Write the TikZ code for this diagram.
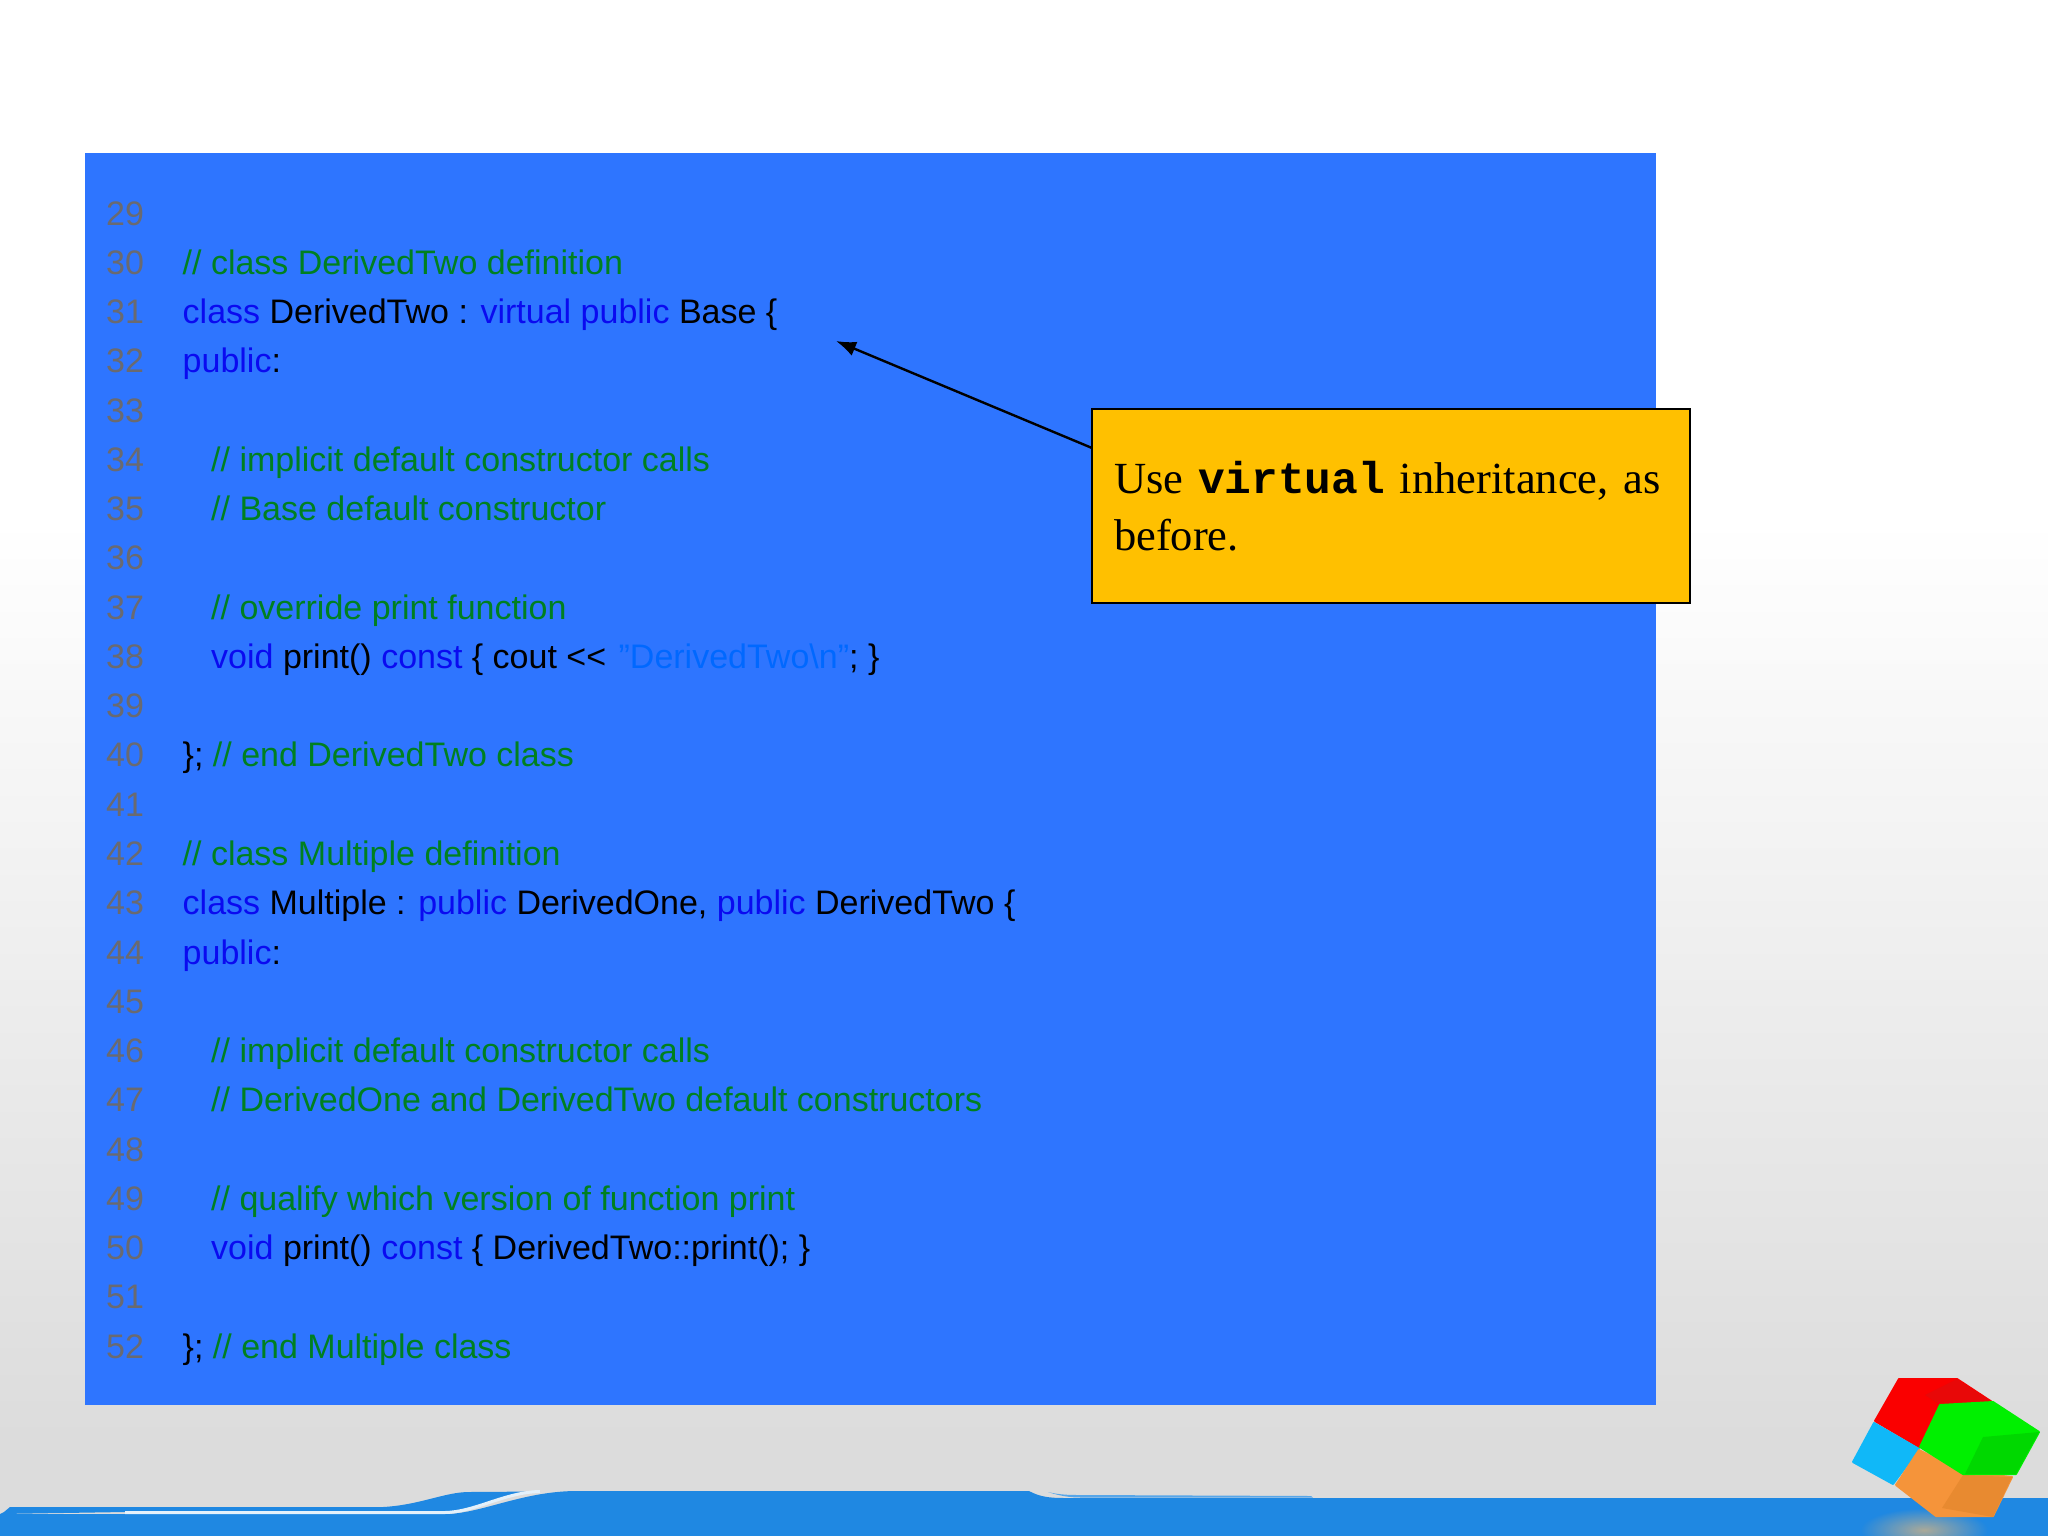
\documentclass[tikz,border=0pt]{standalone}
\usepackage{fontspec}
\setmainfont{Liberation Sans}[Ligatures=NoCommon]
\newfontfamily\serifface{Liberation Serif}
\newfontfamily\monoface{Liberation Mono}
\usetikzlibrary{arrows.meta}
\definecolor{panelblue}{HTML}{2E75FF}
\definecolor{numgray}{HTML}{6A6A70}
\definecolor{cmtgreen}{HTML}{008020}
\definecolor{kwblue}{HTML}{0A0AF0}
\definecolor{strblue}{HTML}{0068FF}
\definecolor{calloutyellow}{HTML}{FFC000}
\definecolor{bandblue}{HTML}{1F88E2}
\definecolor{bgend}{HTML}{DCDCDC}
\definecolor{cubered}{HTML}{FA0000}
\definecolor{cubereddark}{HTML}{E80808}
\definecolor{cubegreen}{HTML}{00F000}
\definecolor{cubegreendark}{HTML}{00D800}
\definecolor{cubecyan}{HTML}{10B8F8}
\definecolor{cubeorange}{HTML}{F5943A}
\definecolor{cubeorangedark}{HTML}{E88A30}
\definecolor{shadowtan}{HTML}{C4B08C}
\newcommand{\kw}[1]{\textcolor{kwblue}{#1}}
\newcommand{\cm}[1]{\textcolor{cmtgreen}{#1}}
\newcommand{\strv}[1]{\textcolor{strblue}{#1}}
\newcommand{\codeline}[3]{%
  \pgfmathsetmacro{\basey}{225+(#1-29)*49.27}%
  \node[numtext] (num#1) at (106,\basey) {#1};%
  \node[codetext] (code#1) at (#2,\basey) {#3};}
\tikzset{
  x=1pt,y=-1pt,
  numtext/.style={anchor=base west,inner sep=0pt,text=numgray,font=\fontsize{34}{40}\selectfont},
  codetext/.style={anchor=base west,inner sep=0pt,text=black,font=\fontsize{34}{40}\selectfont},
  calloutbox/.style={draw=black,line width=2.4pt,fill=calloutyellow,minimum width=598pt,minimum height=194pt,
    text width=554pt,inner xsep=22pt,inner ysep=0pt,align=left,font=\fontsize{44.5}{57}\selectfont\serifface},
  pointer/.style={draw=black,line width=2.4pt,-{Latex[length=20pt,width=15pt]}},
  cubepart/.style={line width=2pt,line join=round}
}
\begin{document}
\begin{tikzpicture}
\useasboundingbox (0,0) rectangle (2048,1536);
% background
\fill[white] (0,0) rectangle (2048,520);
\fill[top color=white,bottom color=bgend] (0,519) rectangle (2048,1440);
\fill[bgend] (0,1439) rectangle (2048,1536);
% bottom band
\fill[bandblue] (10,1507) -- (383,1507) .. controls (420,1505) and (445,1492) .. (469,1492) -- (540,1491.5)
  .. controls (505,1492) and (475,1512) .. (445,1512) -- (125,1512) -- (0,1514) -- (4,1512) -- cycle;
\fill[bandblue] (0,1514) -- (445,1514) .. controls (480,1514) and (520,1492) .. (574,1491)
  -- (1029,1491) .. controls (1040,1497) and (1050,1498) .. (1065,1498) -- (2048,1498) -- (2048,1536) -- (0,1536) -- cycle;
\draw[white!88!bandblue,line width=3pt] (125,1512.5) -- (445,1512.5) .. controls (475,1512) and (505,1492) .. (540,1491.5);
\fill[bandblue!75!white] (1048,1492) .. controls (1060,1495) and (1070,1495) .. (1081,1495) -- (1311,1496) -- (1313,1497.5) -- (1081,1497.5) .. controls (1070,1497.5) and (1060,1496) .. (1048,1492) -- cycle;
% cube shadow
\shade[inner color=shadowtan,outer color=bandblue,opacity=.85] (1924,1530) ellipse (64pt and 22pt);
% panel
\fill[panelblue] (85,153) rectangle (1656,1405);
% code
\codeline{29}{182.5}{}
\codeline{30}{182.5}{\cm{// class DerivedTwo definition}}
\codeline{31}{182.5}{\kw{class} DerivedTwo : \kw{virtual public} Base \{}
\codeline{32}{182.5}{\kw{public}:}
\codeline{33}{182.5}{}
\codeline{34}{211}{\cm{// implicit default constructor calls}}
\codeline{35}{211}{\cm{// Base default constructor}}
\codeline{36}{182.5}{}
\codeline{37}{211}{\cm{// override print function}}
\codeline{38}{211}{\kw{void} print() \kw{const} \{ cout {<}{<} \hspace{3pt}\strv{"DerivedTwo\textbackslash n"}; \}}
\codeline{39}{182.5}{}
\codeline{40}{182.5}{\}; \cm{// end DerivedTwo class}}
\codeline{41}{182.5}{}
\codeline{42}{182.5}{\cm{// class Multiple definition}}
\codeline{43}{182.5}{\kw{class} Multiple : \kw{public} DerivedOne, \kw{public} DerivedTwo \{}
\codeline{44}{182.5}{\kw{public}:}
\codeline{45}{182.5}{}
\codeline{46}{211}{\cm{// implicit default constructor calls}}
\codeline{47}{211}{\cm{// DerivedOne and DerivedTwo default constructors}}
\codeline{48}{182.5}{}
\codeline{49}{211}{\cm{// qualify which version of function print}}
\codeline{50}{211}{\kw{void} print() \kw{const} \{ DerivedTwo::print(); \}}
\codeline{51}{182.5}{}
\codeline{52}{182.5}{\}; \cm{// end Multiple class}}
% callout
\node[calloutbox] (callout) at (1391,506) {Use {\monoface\bfseries virtual} inheritance, as\\before.};
\coordinate (pointerstart) at (1092,448);
\coordinate (pointertip) at (836,341);
\draw[pointer] (pointerstart) -- (pointertip);
% cube
\filldraw[cubepart,draw=cubered,fill=cubered] (1899,1379) -- (1957,1379) -- (1992,1402) -- (1940,1405) -- (1919,1447) -- (1875,1421) -- cycle;
\fill[cubereddark] (1957,1379) -- (1992,1402) -- (1940,1405) -- (1925,1395) -- cycle;
\filldraw[cubepart,draw=cubecyan,fill=cubecyan] (1874,1423) -- (1919,1449) -- (1893,1484) -- (1853,1462) -- cycle;
\filldraw[cubepart,draw=cubeorange,fill=cubeorange] (1919,1450) -- (1963,1472) -- (2012,1477) -- (1993,1516) -- (1936,1516) -- (1896,1485) -- cycle;
\fill[cubeorangedark] (1963,1475) -- (2012,1477) -- (1993,1517) -- (1942,1508) -- cycle;
\filldraw[cubepart,draw=cubegreen,fill=cubegreen] (1940,1405) -- (1993,1402) -- (2039,1432) -- (2016,1474) -- (1963,1474) -- (1920,1447) -- cycle;
\fill[cubegreendark] (1983,1437) -- (2039,1432) -- (2016,1474) -- (1965,1474) -- cycle;
\end{tikzpicture}
\end{document}
